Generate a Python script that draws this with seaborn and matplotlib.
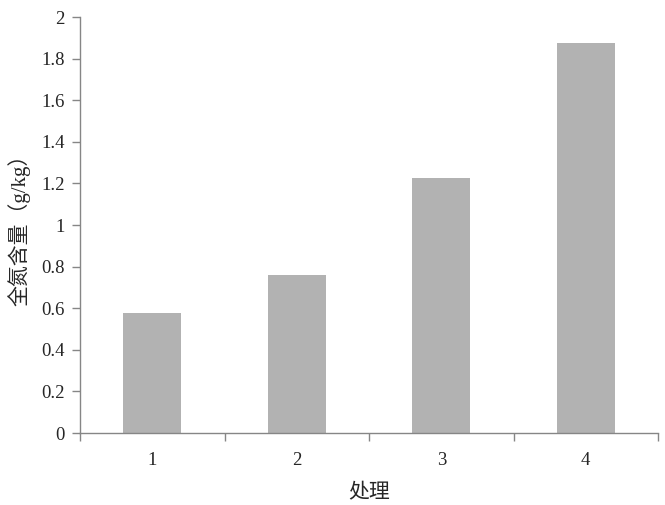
import matplotlib
matplotlib.use("Agg")
import matplotlib.pyplot as plt
import seaborn as sns
import pandas as pd
import numpy as np

categories = ["1", "2", "3", "4"]
values = [0.577, 0.76, 1.226, 1.876]
ytick_labels = ["0", "0.2", "0.4", "0.6", "0.8", "1", "1.2", "1.4", "1.6", "1.8", "2"]

sns.set_style("white")
plt.rcParams['font.family'] = ['Liberation Serif', 'Noto Sans CJK SC', 'DejaVu Sans']

df = pd.DataFrame({"处理": categories, "value": values})

fig = plt.figure(figsize=(6.65, 5.05), dpi=100)
ax = fig.add_axes([80/665, 72/505, 578/665, 416/505])
sns.barplot(data=df, x="处理", y="value", color="#b2b2b2", saturation=1,
            width=0.4, ax=ax, edgecolor="none")

ax.set_xlim(-0.5, len(categories) - 0.5)
ax.set_ylim(0, 2)
yt = [float(t) for t in ytick_labels]
ax.set_yticks(yt)
ax.set_yticklabels(ytick_labels, fontsize=13.5)
ax.set_xticks(range(len(categories)))
ax.set_xticklabels(categories, fontsize=13.5)
ax.set_xticks(np.arange(-0.5, len(categories)), minor=True)
ax.tick_params(axis='x', which='major', length=0, pad=14)
ax.tick_params(axis='x', which='minor', length=6, color='#868686', width=1, direction='out')
ax.tick_params(axis='y', which='major', length=6, color='#868686', width=1, direction='out', pad=5, left=True)
ax.tick_params(axis='x', bottom=True, which='minor')

for s in ['top', 'right']:
    ax.spines[s].set_visible(False)
for s in ['left', 'bottom']:
    ax.spines[s].set_color('#868686')
    ax.spines[s].set_linewidth(1)

ax.set_xlabel("处理", fontsize=15, labelpad=11)
ax.set_ylabel("全氮含量（g/kg）", fontsize=15, labelpad=8)

fig.savefig("out.png", dpi=100)
